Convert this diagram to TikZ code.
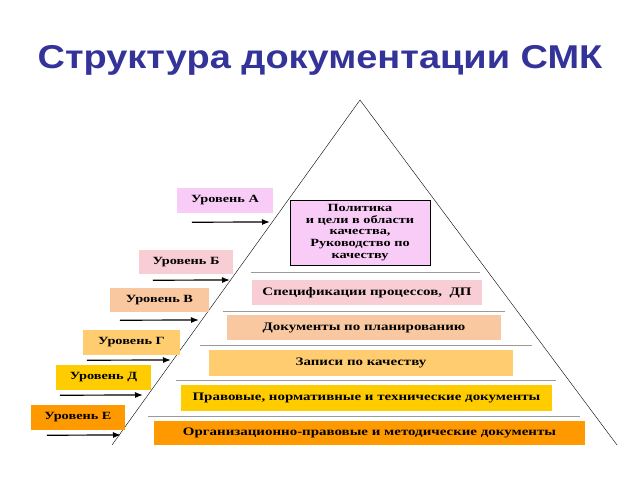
\documentclass[tikz,border=0pt]{standalone}
\usepackage{fontspec}
\setmainfont{Liberation Serif}
\newfontfamily\titlefont[FakeStretch=1.15]{Liberation Sans}
\newfontfamily\boxfont[FakeStretch=1.3]{Liberation Serif}
\usetikzlibrary{calc}
\usetikzlibrary{arrows.meta}

\definecolor{titleblue}{HTML}{333399}
\definecolor{levA}{HTML}{F9CCF7}
\definecolor{levB}{HTML}{F8CDD3}
\definecolor{levV}{HTML}{FAC8A0}
\definecolor{levG}{HTML}{FFCC70}
\definecolor{levD}{HTML}{FFCC00}
\definecolor{levE}{HTML}{FF9900}
\definecolor{sepgray}{HTML}{9A9A9A}

\tikzset{
    level/.style={fill=#1, inner sep=0, minimum height=25,
        font=\boxfont\bfseries\fontsize{11}{12}\selectfont},
    layer/.style={fill=#1, inner sep=0, minimum height=25,
        font=\boxfont\bfseries\fontsize{11.5}{12}\selectfont},
    pointer/.style={line width=1.2pt, -{Latex[length=8pt, width=6pt]}},
    sep/.style={sepgray, thin}
}

\begin{document}
\begin{tikzpicture}[x=1pt, y=-1pt]
    \useasboundingbox (0, 0) rectangle (640, 480);

\node[font=\titlefont\bfseries\fontsize{33}{36}\selectfont, text=titleblue,
    anchor=base] (title) at (320, 68) {Структура документации СМК};

% pyramid
\coordinate (apex) at (360, 100);
\coordinate (bl) at (112, 445);
\coordinate (br) at (617, 445);
\draw[thin] (bl) -- (apex) -- (br);

% separators
\draw[sep] (251, 272) -- (480, 272);
\draw[sep] (223, 311) -- (505, 311);
\draw[sep] (200, 345) -- (532, 345);
\draw[sep] (176, 380) -- (556, 380);
\draw[sep] (148, 416) -- (580, 416);

% layers inside
\node[draw=black, fill=levA, inner sep=0, minimum width=140, minimum height=65,
    align=center, font=\boxfont\bfseries\fontsize{11}{11.8}\selectfont]
    (policy) at (360, 232.5)
    {Политика\\и цели в области\\качества,\\Руководство по\\качеству};
\node[layer=levB, minimum width=230] (spec) at (367, 292.5)
    {Спецификации процессов,\ \ ДП};
\node[layer=levV, minimum width=274] (plan) at (364, 327.5)
    {Документы по планированию};
\node[layer=levG, minimum width=304, minimum height=26] (rec) at (361, 363)
    {Записи по качеству};
\node[layer=levD, minimum width=371, minimum height=26] (law) at (366.5, 398)
    {Правовые, нормативные и технические документы};
\node[layer=levE, minimum width=431, minimum height=24] (org) at (369.5, 433)
    {Организационно-правовые и методические документы};

% levels
\node[level=levA, minimum width=96] (lvA) at (225, 200.5) {Уровень А};
\node[level=levB, minimum width=94, minimum height=24] (lvB) at (186, 262) {Уровень Б};
\node[level=levV, minimum width=99, minimum height=24] (lvV) at (159.5, 300) {Уровень В};
\node[level=levG, minimum width=97] (lvG) at (131.5, 342.5) {Уровень Г};
\node[level=levD, minimum width=95] (lvD) at (103.5, 377.5) {Уровень Д};
\node[level=levE, minimum width=94] (lvE) at (78, 417.5) {Уровень Е};

% pointers to the edge
\coordinate (inA) at (270, 222);
\coordinate (inB) at (230, 280);
\coordinate (inV) at (199, 320);
\coordinate (inG) at (171, 360);
\coordinate (inD) at (143, 395);
\coordinate (inE) at (121, 435);

\draw[pointer] (lvA.south west) ++(15, 9) -- (inA);
\draw[pointer] (lvB.south west) ++(14, 6) -- (inB);
\draw[pointer] (lvV.south west) ++(10, 8) -- (inV);
\draw[pointer] (lvG.south west) ++(4, 5) -- (inG);
\draw[pointer] (lvD.south west) ++(4, 5) -- (inD);
\draw[pointer] (lvE.south west) ++(16, 5) -- (inE);
\end{tikzpicture}
\end{document}
